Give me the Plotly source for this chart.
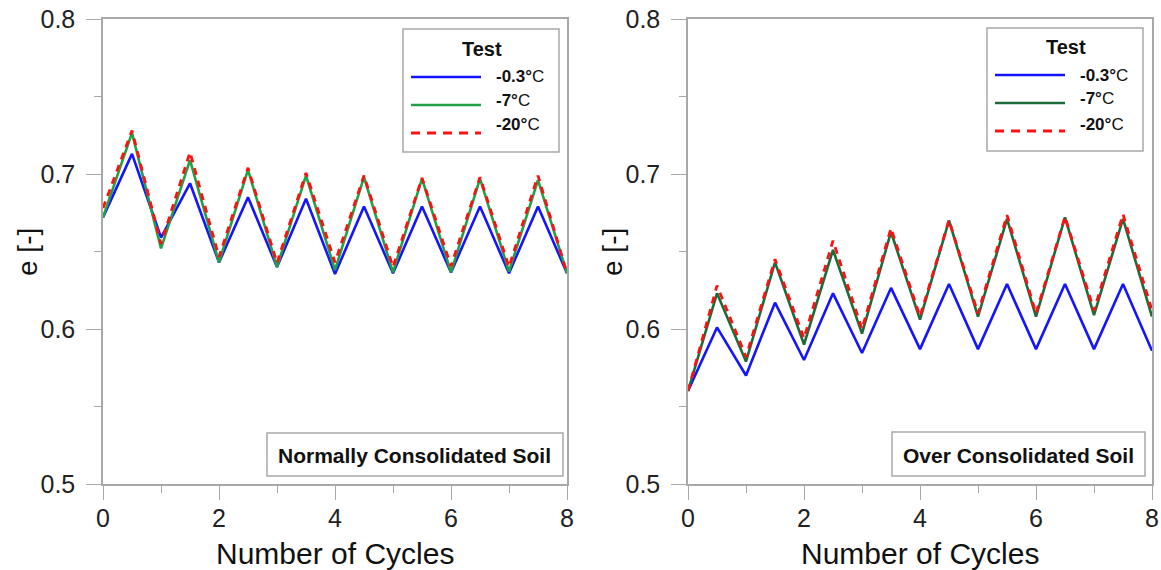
import plotly.graph_objects as go

# Void ratio e over freeze-thaw cycles for three test temperatures
cycles = [0, 0.5, 1, 1.5, 2, 2.5, 3, 3.5, 4, 4.5, 5, 5.5, 6, 6.5, 7, 7.5, 8]

# Normally consolidated soil
nc_m0_3 = [0.672, 0.713, 0.659, 0.694, 0.643, 0.685, 0.640, 0.684, 0.6355,
           0.679, 0.636, 0.679, 0.6365, 0.679, 0.636, 0.679, 0.636]
nc_m7 = [0.672, 0.7265, 0.652, 0.709, 0.643, 0.7026, 0.640, 0.699, 0.638,
         0.698, 0.6365, 0.697, 0.6365, 0.697, 0.637, 0.696, 0.636]
nc_m20 = [0.678, 0.728, 0.655, 0.714, 0.6465, 0.704, 0.6426, 0.7007, 0.643,
          0.699, 0.640, 0.6975, 0.6405, 0.698, 0.640, 0.699, 0.636]

# Over consolidated soil
oc_m0_3 = [0.560, 0.601, 0.570, 0.617, 0.580, 0.623, 0.5845, 0.6265, 0.587,
           0.629, 0.587, 0.629, 0.587, 0.629, 0.587, 0.629, 0.586]
oc_m7 = [0.560, 0.623, 0.579, 0.643, 0.590, 0.651, 0.597, 0.6626, 0.606,
         0.670, 0.608, 0.671, 0.608, 0.672, 0.609, 0.671, 0.608]
oc_m20 = [0.560, 0.628, 0.582, 0.645, 0.594, 0.657, 0.600, 0.665, 0.608,
          0.6703, 0.610, 0.6735, 0.610, 0.6725, 0.612, 0.674, 0.612]

series_names = ["-0.3°C", "-7°C", "-20°C"]
panel_titles = ["Normally Consolidated Soil", "Over Consolidated Soil"]

W, H = 1161, 570
FONT = "Liberation Sans, Arial, Helvetica, sans-serif"
FRAME = "#a8a8a8"
BLUE = "#1414ff"
GREEN_L = "#22a045"
GREEN_R = "#1e6b3a"
RED = "#ff1010"


def px(x):
    return x / W


def py(y):
    return 1 - y / H


fig = go.Figure()

panels = [
    ("x", "y", [nc_m0_3, nc_m7, nc_m20], GREEN_L),
    ("x2", "y2", [oc_m0_3, oc_m7, oc_m20], GREEN_R),
]
for xa, ya, (s_blue, s_green, s_red), green in panels:
    fig.add_trace(go.Scatter(x=cycles, y=s_blue, mode="lines", name=series_names[0],
                             line=dict(color=BLUE, width=2.6), xaxis=xa, yaxis=ya,
                             showlegend=False))
    fig.add_trace(go.Scatter(x=cycles, y=s_green, mode="lines", name=series_names[1],
                             line=dict(color=green, width=2.6), xaxis=xa, yaxis=ya,
                             showlegend=False))
    fig.add_trace(go.Scatter(x=cycles, y=s_red, mode="lines", name=series_names[2],
                             line=dict(color=RED, width=2.8, dash="7px,6px"),
                             xaxis=xa, yaxis=ya, showlegend=False))

x_dom = [[px(103), px(567)], [px(688), px(1152)]]
y_dom = [py(484), py(19)]

common_x = dict(range=[0, 8], tickvals=[0, 2, 4, 6, 8], ticks="outside", ticklen=14,
                tickwidth=1.3, tickcolor=FRAME, showline=True, linecolor=FRAME,
                linewidth=1.5, mirror=True, showgrid=False, zeroline=False,
                automargin=False,
                tickfont=dict(family=FONT, size=25, color="#222222"),
                minor=dict(tickvals=[1, 3, 5, 7], ticks="outside", ticklen=7,
                           tickcolor=FRAME, tickwidth=1.3),
                ticklabelstandoff=-3)
common_y = dict(range=[0.5, 0.8], tickvals=[0.5, 0.6, 0.7, 0.8], ticks="outside",
                ticklen=15, tickwidth=1.3, tickcolor=FRAME, showline=True,
                linecolor=FRAME, linewidth=1.5, mirror=True, showgrid=False,
                zeroline=False, tickformat=".1f", automargin=False,
                tickfont=dict(family=FONT, size=25, color="#222222"),
                minor=dict(tickvals=[0.55, 0.65, 0.75], ticks="outside", ticklen=7,
                           tickcolor=FRAME, tickwidth=1.3),
                ticklabelstandoff=6)

fig.update_layout(
    width=W, height=H, margin=dict(l=0, r=0, t=0, b=0, autoexpand=False),
    paper_bgcolor="white", plot_bgcolor="white", showlegend=False,
    xaxis=dict(domain=x_dom[0], anchor="y", **common_x),
    yaxis=dict(domain=y_dom, anchor="x", **common_y),
    xaxis2=dict(domain=x_dom[1], anchor="y2", **common_x),
    yaxis2=dict(domain=y_dom, anchor="x2", **common_y),
)

shapes = []
annotations = []

# Axis titles
for cx in (335, 920):
    annotations.append(dict(x=px(cx), y=py(553), xref="paper", yref="paper",
                            text="Number of Cycles", showarrow=False,
                            font=dict(family=FONT, size=30, color="#111111"),
                            xanchor="center", yanchor="middle"))
for cx in (27, 612):
    annotations.append(dict(x=px(cx), y=py(252), xref="paper", yref="paper",
                            text="e [-]", showarrow=False, textangle=-90,
                            font=dict(family=FONT, size=28, color="#111111"),
                            xanchor="center", yanchor="middle"))

# Legend boxes, one per panel
legend_specs = [
    dict(box=(403, 29, 559, 152), line_x=(411, 481), line_y=(77, 105, 133),
         label_x=494, label_y=(77, 100, 124), title=(482, 49), green=GREEN_L),
    dict(box=(987, 28, 1143, 151), line_x=(995, 1065), line_y=(75, 103, 131),
         label_x=1078, label_y=(76, 99, 124), title=(1066, 47), green=GREEN_R),
]
for spec in legend_specs:
    x0, y0, x1, y1 = spec["box"]
    shapes.append(dict(type="rect", xref="paper", yref="paper",
                       x0=px(x0), x1=px(x1), y0=py(y1), y1=py(y0),
                       line=dict(color=FRAME, width=1.5), fillcolor="white", layer="above"))
    annotations.append(dict(x=px(spec["title"][0]), y=py(spec["title"][1]),
                            xref="paper", yref="paper", text="<b>Test</b>",
                            showarrow=False, xanchor="center", yanchor="middle",
                            font=dict(family=FONT, size=20, color="#111111")))
    styles = [dict(color=BLUE, width=2.6), dict(color=spec["green"], width=2.6),
              dict(color=RED, width=2.8, dash="9px,7px")]
    for name, ly, lab_y, st in zip(series_names, spec["line_y"], spec["label_y"], styles):
        shapes.append(dict(type="line", xref="paper", yref="paper",
                           x0=px(spec["line_x"][0]), x1=px(spec["line_x"][1]),
                           y0=py(ly), y1=py(ly), line=st, layer="above"))
        num, unit = name[:-1], name[-1]
        annotations.append(dict(x=px(spec["label_x"]), y=py(lab_y), xref="paper",
                                yref="paper", text=f"<b>{num}</b>{unit}",
                                showarrow=False, xanchor="left", yanchor="middle",
                                font=dict(family=FONT, size=17, color="#111111")))

# Soil type labels
soil_boxes = [(267, 433, 563, 476), (892, 432, 1145, 476)]
for (x0, y0, x1, y1), title in zip(soil_boxes, panel_titles):
    shapes.append(dict(type="rect", xref="paper", yref="paper",
                       x0=px(x0), x1=px(x1), y0=py(y1), y1=py(y0),
                       line=dict(color=FRAME, width=1.5), fillcolor="white", layer="above"))
    annotations.append(dict(x=px((x0 + x1) / 2), y=py((y0 + y1) / 2 + 1), xref="paper",
                            yref="paper", text=f"<b>{title}</b>", showarrow=False,
                            xanchor="center", yanchor="middle",
                            font=dict(family=FONT, size=21, color="#111111")))

fig.update_layout(shapes=shapes, annotations=annotations)

fig.write_html("out.html")
